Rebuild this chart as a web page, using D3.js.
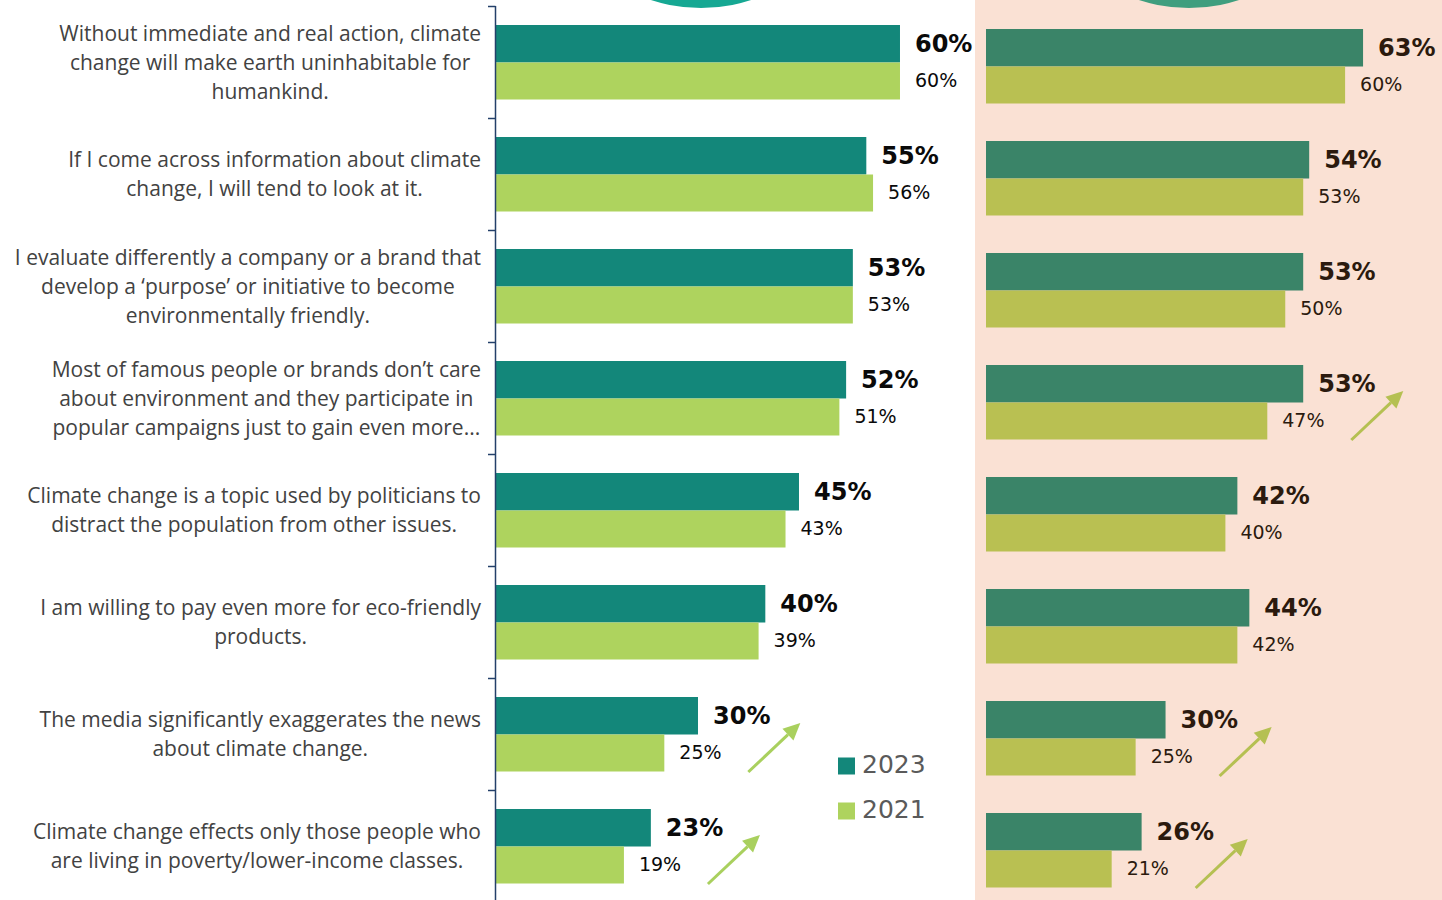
<!DOCTYPE html>
<html>
<head>
<meta charset="utf-8">
<script src="https://cdn.jsdelivr.net/npm/d3@7"></script>
<style>
  html, body { margin: 0; padding: 0; background: #ffffff; }
  svg { display: block; }
</style>
</head>
<body>
<svg id="chart" width="1442" height="900"></svg>
<script>
// Survey statements (one entry per row, lines pre-broken)
const statements = [
  ["Without immediate and real action, climate", "change will make earth uninhabitable for", "humankind."],
  ["If I come across information about climate", "change, I will tend to look at it."],
  ["I evaluate differently a company or a brand that", "develop a \u2018purpose\u2019 or initiative to become", "environmentally friendly."],
  ["Most of famous people or brands don\u2019t care", "about environment and they participate in", "popular campaigns just to gain even more..."],
  ["Climate change is a topic used by politicians to", "distract the population from other issues."],
  ["I am willing to pay even more for eco-friendly", "products."],
  ["The media significantly exaggerates the news", "about climate change."],
  ["Climate change effects only those people who", "are living in poverty/lower-income classes."]
];

const years = ["2023", "2021"];

// Left panel
const left2023 = [60, 55, 53, 52, 45, 40, 30, 23];
const left2021 = [60, 56, 53, 51, 43, 39, 25, 19];
const leftRising = [6, 7];

// Right panel
const right2023 = [63, 54, 53, 53, 42, 44, 30, 26];
const right2021 = [60, 53, 50, 47, 40, 42, 25, 21];
const rightRising = [3, 6, 7];

const svg = d3.select("#chart");
const W = 1442, H = 900;

// Right panel background
svg.append("rect")
  .attr("x", 975).attr("y", 0)
  .attr("width", W - 975).attr("height", H)
  .attr("fill", "#fae1d4");

// Decorative badges peeking in at the top
svg.append("circle").attr("cx", 701).attr("cy", -153).attr("r", 161).attr("fill", "#16a893");
svg.append("circle").attr("cx", 1189).attr("cy", -153).attr("r", 161).attr("fill", "#3f9e7e");

const rows = d3.range(statements.length);

const yLeft = d3.scaleBand().domain(rows).range([6, 902]);
const yRight = d3.scaleBand().domain(rows).range([10, 906]);

const xLeft = d3.scaleLinear().domain([0, 100]).range([496, 496 + 673.3]);
const xRight = d3.scaleLinear().domain([0, 100]).range([986, 986 + 598.5]);

const barH = 37;

function drawPanel(y, x, vNew, vOld, cNew, cOld, labelColor, rising, arrowColor) {
  const grp = svg.append("g");
  rows.forEach(i => {
    const cy = y(i) + y.bandwidth() / 2;
    grp.append("rect")
      .attr("x", x(0)).attr("y", cy - barH)
      .attr("width", x(vNew[i]) - x(0)).attr("height", barH + 0.5)
      .attr("fill", cNew);
    grp.append("rect")
      .attr("x", x(0)).attr("y", cy + 0.5)
      .attr("width", x(vOld[i]) - x(0)).attr("height", barH)
      .attr("fill", cOld);
    grp.append("text")
      .attr("x", x(vNew[i]) + 15).attr("y", cy - barH / 2)
      .attr("dy", "0.36em")
      .attr("font-family", "'DejaVu Sans', sans-serif")
      .attr("font-weight", "bold")
      .attr("font-size", 24)
      .attr("fill", labelColor)
      .text(vNew[i] + "%");
    grp.append("text")
      .attr("x", x(vOld[i]) + 15).attr("y", cy + barH / 2)
      .attr("dy", "0.36em")
      .attr("font-family", "'DejaVu Sans', sans-serif")
      .attr("font-size", 19)
      .attr("fill", labelColor)
      .text(vOld[i] + "%");
  });
  // Upward arrows on rows with a notable rise
  rising.forEach(i => {
    const cy = y(i) + y.bandwidth() / 2;
    const x0 = x(vOld[i]) + 84, y0 = cy + 38;
    const x1 = x0 + 52, y1 = y0 - 49;
    const ang = Math.atan2(y1 - y0, x1 - x0);
    const hl = 17, hw = 8;
    const bx = x1 - hl * Math.cos(ang), by = y1 - hl * Math.sin(ang);
    grp.append("line")
      .attr("x1", x0).attr("y1", y0).attr("x2", bx).attr("y2", by)
      .attr("stroke", arrowColor).attr("stroke-width", 3);
    const px = -Math.sin(ang), py = Math.cos(ang);
    grp.append("path")
      .attr("d", `M${x1},${y1}L${bx + px * hw},${by + py * hw}L${bx - px * hw},${by - py * hw}Z`)
      .attr("fill", arrowColor);
  });
}

drawPanel(yLeft, xLeft, left2023, left2021, "#13877a", "#aed35e", "#0a0a0a", leftRising, "#a9d05e");
drawPanel(yRight, xRight, right2023, right2021, "#3a8468", "#b9c052", "#2b1a0e", rightRising, "#b5c052");

// Category axis on the left panel
const axis = svg.append("g");
axis.append("line")
  .attr("x1", 495.5).attr("x2", 495.5)
  .attr("y1", yLeft.range()[0]).attr("y2", H)
  .attr("stroke", "#24406a").attr("stroke-width", 1.5);
rows.forEach(i => {
  axis.append("line")
    .attr("x1", 488).attr("x2", 495.5)
    .attr("y1", yLeft(i) + 0.5).attr("y2", yLeft(i) + 0.5)
    .attr("stroke", "#24406a").attr("stroke-width", 1.5);
});

// Statement labels: centred lines, block right-aligned against the axis
const lineH = 29;
rows.forEach(i => {
  const lines = statements[i];
  const cy = yLeft(i) + yLeft.bandwidth() / 2;
  const t = svg.append("text")
    .attr("font-family", "'Open Sans', sans-serif")
    .attr("font-size", 21)
    .attr("fill", "#424242")
    .attr("text-anchor", "middle");
  const spans = lines.map((s, k) => t.append("tspan")
    .attr("y", cy + (k - (lines.length - 1) / 2) * lineH)
    .attr("dy", "0.36em")
    .text(s));
  const maxW = d3.max(spans, sp => sp.node().getComputedTextLength());
  spans.forEach(sp => sp.attr("x", 481 - maxW / 2));
});

// Legend
const legend = svg.append("g");
const legendColors = ["#13877a", "#aed35e"];
years.forEach((yr, k) => {
  const ly = 765 + k * 45;
  legend.append("rect")
    .attr("x", 838).attr("y", ly - 7.5)
    .attr("width", 17).attr("height", 17)
    .attr("fill", legendColors[k]);
  legend.append("text")
    .attr("x", 862).attr("y", ly)
    .attr("dy", "0.3em")
    .attr("font-family", "'DejaVu Sans', sans-serif")
    .attr("font-size", 25)
    .attr("fill", "#5a5a5a")
    .text(yr);
});
</script>
</body>
</html>
